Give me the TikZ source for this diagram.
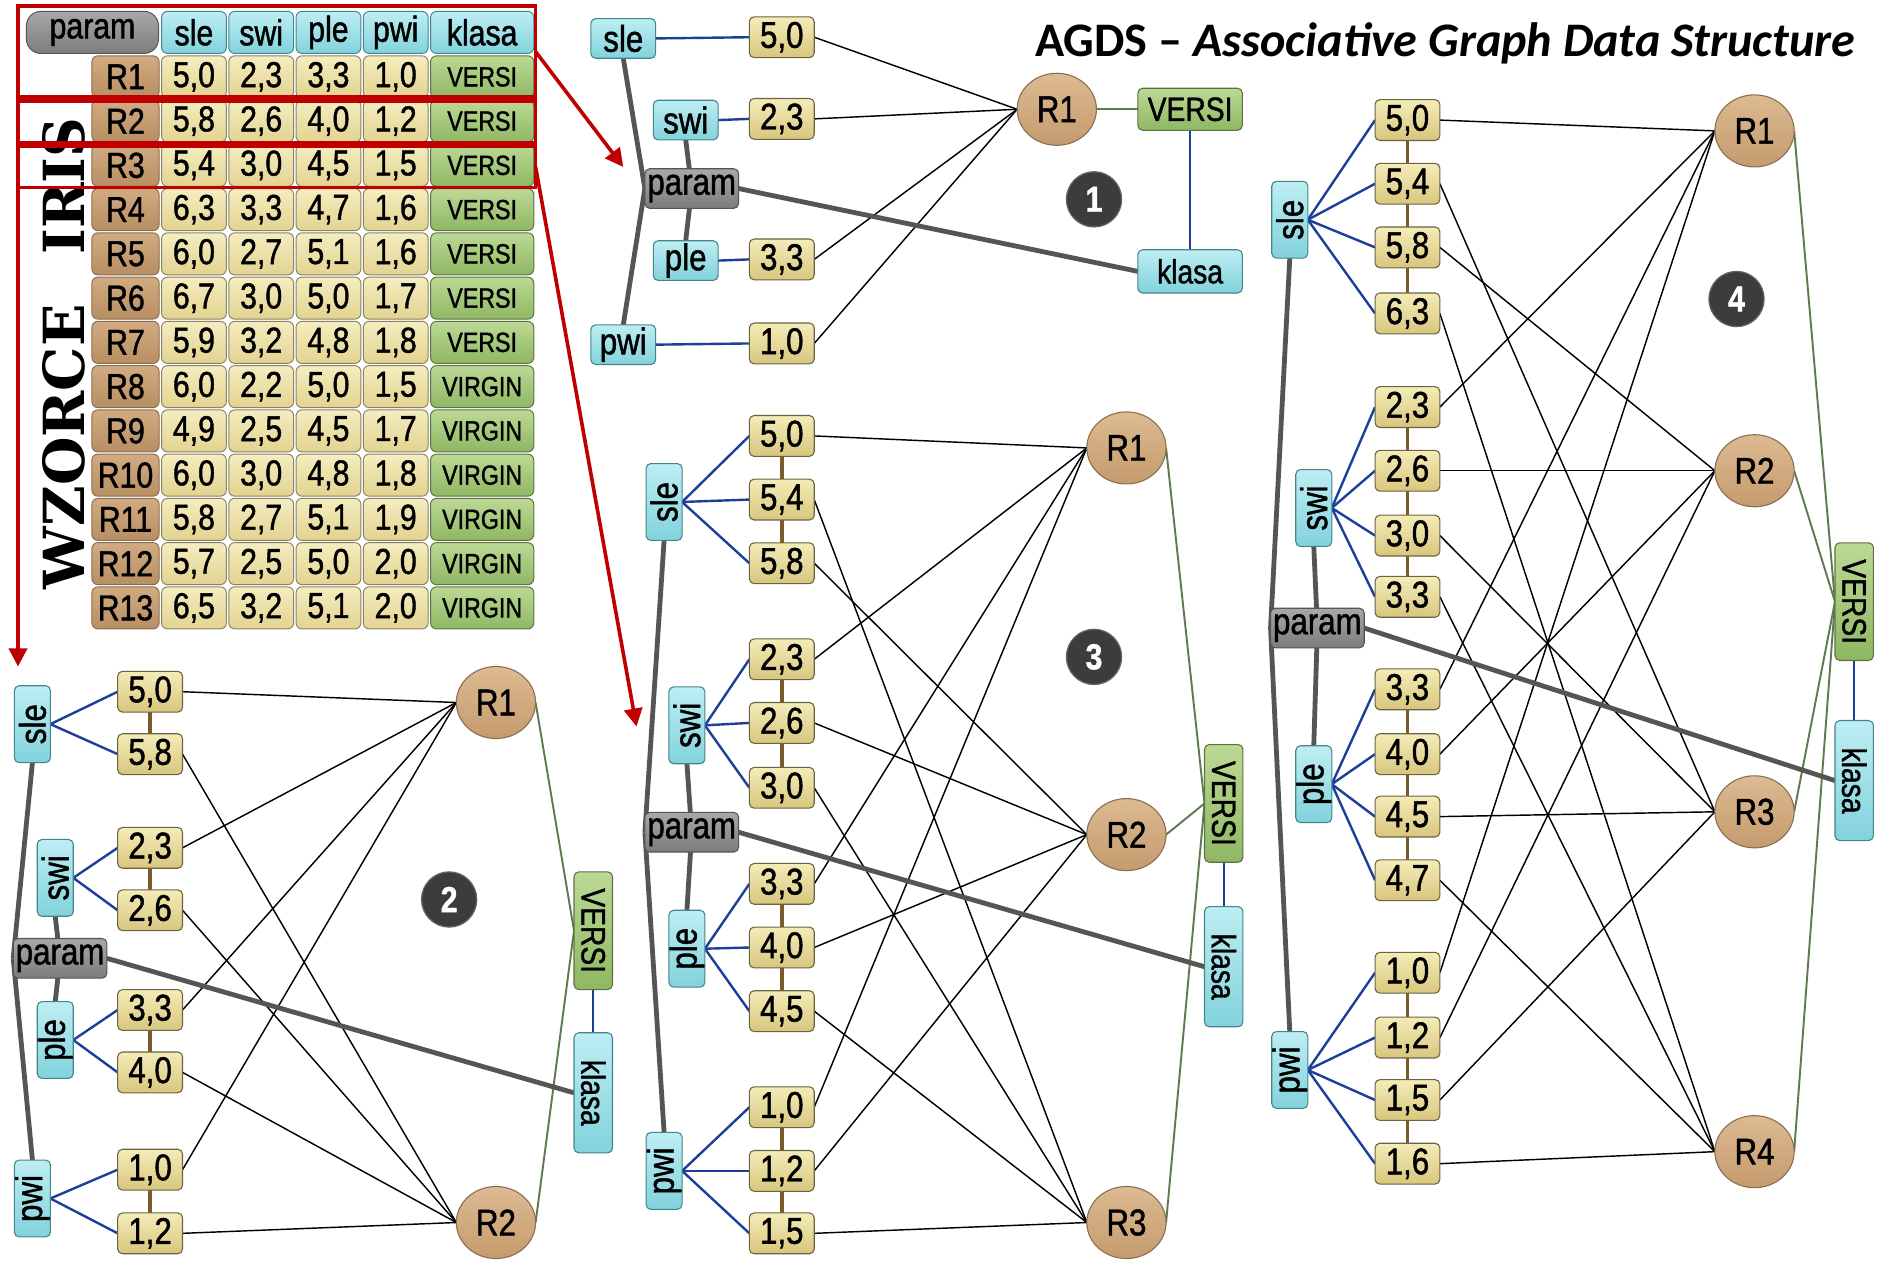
\documentclass[tikz,border=0pt]{standalone}
\usepackage{fontspec}
\setmainfont{Liberation Sans}[FakeStretch=0.84,FakeBold=1.2]
\newfontfamily\titlefont{Carlito}
\newfontfamily\stampfont{DejaVu Serif}
\usetikzlibrary{shapes.geometric,arrows.meta,calc}

\pgfdeclarelayer{paper}
\pgfdeclarelayer{links}
\pgfsetlayers{paper,links,main}

% colours
\definecolor{valtop}{HTML}{F4ECB8}
\definecolor{valbot}{HTML}{D8C67E}
\definecolor{valedge}{HTML}{6B6440}
\definecolor{cyantop}{HTML}{BDEEF3}
\definecolor{cyanbot}{HTML}{82D2DC}
\definecolor{cyanedge}{HTML}{44858C}
\definecolor{graytop}{HTML}{A8A8A8}
\definecolor{graybot}{HTML}{7C7C7C}
\definecolor{grayedge}{HTML}{555555}
\definecolor{greentop}{HTML}{BCD995}
\definecolor{greenbot}{HTML}{8FB763}
\definecolor{greenedge}{HTML}{5D7242}
\definecolor{rectop}{HTML}{DDBA92}
\definecolor{recbot}{HTML}{C49B6E}
\definecolor{recedge}{HTML}{8A6E50}
\definecolor{trtop}{HTML}{D2AB82}
\definecolor{trbot}{HTML}{B88E63}
\definecolor{tvtop}{HTML}{F5EDC0}
\definecolor{tvbot}{HTML}{E2D390}
\definecolor{markred}{HTML}{C00000}
\definecolor{linkblue}{HTML}{1C3F9A}
\definecolor{linkbrown}{HTML}{7B5A2C}
\definecolor{linkgray}{HTML}{555555}
\definecolor{linkgreen}{HTML}{5E7A52}
\definecolor{badgegray}{HTML}{3C3C3C}

\newcommand\valfont{\fontsize{31}{31}\selectfont}
\newcommand\tvalfont{\fontsize{30}{30}\selectfont}
\newcommand\clsfont{\fontsize{28}{28}\selectfont}
\newcommand\tabclsfont{\fontsize{23}{23}\selectfont}
\newcommand\badgefont{\fontsize{30}{30}\selectfont\bfseries}
\newcommand\up[1]{\rotatebox{90}{#1}}
\newcommand\down[1]{\rotatebox{-90}{#1}}

\tikzset{
  every node/.style={inner sep=0pt, outer sep=0pt},
  cell/.style={rectangle, rounded corners=4pt, line width=0.9pt},
  valbox/.style={cell, draw=valedge, top color=valtop, bottom color=valbot,
    minimum width=54pt, minimum height=34pt, font=\valfont},
  attrbox/.style={cell, draw=cyanedge, top color=cyantop, bottom color=cyanbot,
    minimum width=54pt, minimum height=33pt, font=\valfont},
  attrvbox/.style={attrbox, minimum width=30pt, minimum height=64pt},
  parbox/.style={cell, draw=grayedge, top color=graytop, bottom color=graybot,
    minimum width=78pt, minimum height=33pt, font=\valfont},
  clsbox/.style={cell, draw=greenedge, top color=greentop, bottom color=greenbot,
    minimum width=87pt, minimum height=35pt, font=\clsfont},
  clsvbox/.style={clsbox, minimum width=32pt, minimum height=98pt},
  klasabox/.style={attrbox, minimum width=87pt, minimum height=36pt, font=\clsfont},
  klasavbox/.style={attrbox, minimum width=32pt, minimum height=100pt, font=\clsfont},
  recnode/.style={ellipse, draw=recedge, line width=0.9pt, top color=rectop,
    bottom color=recbot, minimum width=66pt, minimum height=60pt, font=\valfont},
  badge/.style={circle, fill=badgegray, draw=black!60, line width=1pt,
    minimum size=46pt, text=white, font=\badgefont},
  bluelink/.style={draw=linkblue, line width=2pt},
  brownlink/.style={draw=linkbrown, line width=3pt},
  parlink/.style={draw=linkgray, line width=4pt},
  reclink/.style={draw=black, line width=1.2pt},
  clslink/.style={draw=linkgreen, line width=1.6pt},
  redframe/.style={rectangle, draw=markred, line width=3pt, minimum width=431pt},
  redmark/.style={draw=markred, line width=3pt, -{Triangle[length=15pt,width=15pt]}},
  tcell/.style={rectangle, rounded corners=5pt, line width=0.8pt, minimum height=35pt},
  thead/.style={tcell, draw=cyanedge, top color=cyantop, bottom color=cyanbot,
    minimum width=54pt, font=\tvalfont},
  tgray/.style={tcell, rounded corners=12pt, draw=grayedge, top color=graytop,
    bottom color=graybot, minimum width=110pt, font=\tvalfont},
  trec/.style={tcell, draw=recedge, top color=trtop, bottom color=trbot,
    minimum width=56pt, font=\tvalfont},
  tval/.style={tcell, draw=valedge!80, top color=tvtop, bottom color=tvbot,
    minimum width=54pt, font=\tvalfont},
  tcls/.style={tcell, draw=greenedge, top color=greentop, bottom color=greenbot,
    minimum width=86pt, font=\tabclsfont},
}

% one row of the pattern table
\newcommand\tabrow[7]{%
  \node[trec] (t#1-r) at (104.5,{64+(#1-1)*36.85}) {#2};
  \node[tval] (t#1-a) at (161.5,{64+(#1-1)*36.85}) {#3};
  \node[tval] (t#1-b) at (217.5,{64+(#1-1)*36.85}) {#4};
  \node[tval] (t#1-c) at (273.5,{64+(#1-1)*36.85}) {#5};
  \node[tval] (t#1-d) at (329.5,{64+(#1-1)*36.85}) {#6};
  \node[tcls] (t#1-k) at (401.5,{64+(#1-1)*36.85}) {#7};
}

\begin{document}
\begin{tikzpicture}[x=1pt,y=-1pt]
\useasboundingbox (0,0) rectangle (1568,1056);
\begin{pgfonlayer}{paper}
\fill[white] (0,0) rectangle (1568,1056);
\end{pgfonlayer}

% ---------------- pattern table ----------------
\node[tgray] (th-par) at (77,27) {param};
\node[thead] (th-sle) at (161.5,27) {sle};
\node[thead] (th-swi) at (217.5,27) {swi};
\node[thead] (th-ple) at (273.5,27) {ple};
\node[thead] (th-pwi) at (329.5,27) {pwi};
\node[thead, minimum width=86pt] (th-kla) at (401.5,27) {klasa};

\tabrow{1}{R1}{5,0}{2,3}{3,3}{1,0}{VERSI}
\tabrow{2}{R2}{5,8}{2,6}{4,0}{1,2}{VERSI}
\tabrow{3}{R3}{5,4}{3,0}{4,5}{1,5}{VERSI}
\tabrow{4}{R4}{6,3}{3,3}{4,7}{1,6}{VERSI}
\tabrow{5}{R5}{6,0}{2,7}{5,1}{1,6}{VERSI}
\tabrow{6}{R6}{6,7}{3,0}{5,0}{1,7}{VERSI}
\tabrow{7}{R7}{5,9}{3,2}{4,8}{1,8}{VERSI}
\tabrow{8}{R8}{6,0}{2,2}{5,0}{1,5}{VIRGIN}
\tabrow{9}{R9}{4,9}{2,5}{4,5}{1,7}{VIRGIN}
\tabrow{10}{R10}{6,0}{3,0}{4,8}{1,8}{VIRGIN}
\tabrow{11}{R11}{5,8}{2,7}{5,1}{1,9}{VIRGIN}
\tabrow{12}{R12}{5,7}{2,5}{5,0}{2,0}{VIRGIN}
\tabrow{13}{R13}{6,5}{3,2}{5,1}{2,0}{VIRGIN}

\node[rotate=90] (wzorce) at (53,372) {\resizebox{237pt}{35pt}{\stampfont\bfseries WZORCE}};
\node[rotate=90] (iris) at (53,155) {\resizebox{114pt}{35pt}{\stampfont\bfseries IRIS}};

% selections and arrows
\node[redframe, minimum height=76pt] (frA) at (230.5,43) {};
\node[redframe, minimum height=35pt] (frB) at (230.5,101.5) {};
\node[redframe, minimum height=34pt] (frC) at (230.5,139) {};
\coordinate (tip1) at (519,139);
\coordinate (tip2) at (15,555);
\coordinate (tip3) at (530,605);
\draw[redmark] (frA.east) -- (tip1);
\draw[redmark] (frC.south west) -- (tip2);
\draw[redmark] (frC.east) -- (tip3);

% ---------------- title ----------------
\node[anchor=west] (title) at (862,36)
  {\resizebox{683pt}{!}{\titlefont\bfseries AGDS – \itshape Associative Graph Data Structure}};

% ---------------- graph 1 ----------------
\node[attrbox] (g1-sle) at (519,32) {sle};
\node[attrbox] (g1-swi) at (571,100) {swi};
\node[parbox]  (g1-par) at (576,157) {param};
\node[attrbox] (g1-ple) at (571,217) {ple};
\node[attrbox] (g1-pwi) at (519,287) {pwi};
\node[valbox] (g1-a1) at (651,31) {5,0};
\node[valbox] (g1-b1) at (651,99) {2,3};
\node[valbox] (g1-c1) at (651,216) {3,3};
\node[valbox] (g1-d1) at (651,286) {1,0};
\node[recnode] (g1-R1) at (880,91) {R1};
\node[clsbox] (g1-V) at (991,91) {VERSI};
\node[klasabox] (g1-K) at (991,226) {klasa};
\node[badge] (g1-badge) at (911,166) {1};

\begin{pgfonlayer}{links}
\foreach \s/\t in {sle/a1, swi/b1, ple/c1, pwi/d1}
  \draw[bluelink] (g1-\s.east) -- (g1-\t.west);
\foreach \v in {a1,b1,c1,d1}
  \draw[reclink] (g1-\v.east) -- (g1-R1.west);
\draw[clslink] (g1-R1.east) -- (g1-V.west);
\draw[bluelink, line width=1.5pt] (g1-V.south) -- (g1-K.north);
\draw[parlink] (g1-sle.south) -- (g1-par.west);
\draw[parlink] (g1-par.west) -- (g1-pwi.north);
\draw[parlink] (g1-swi.south) -- (g1-par);
\draw[parlink] (g1-ple.north) -- (g1-par);
\draw[parlink] (g1-par.east) -- (g1-K.west);
\end{pgfonlayer}

% ---------------- graph 2 ----------------
\node[attrvbox] (g2-sle) at (27,603) {\up{sle}};
\node[attrvbox] (g2-swi) at (46,731) {\up{swi}};
\node[parbox]   (g2-par) at (50,798) {param};
\node[attrvbox] (g2-ple) at (46,866) {\up{ple}};
\node[attrvbox] (g2-pwi) at (27,998) {\up{pwi}};
\node[valbox] (g2-a1) at (125,576) {5,0};
\node[valbox] (g2-a2) at (125,628) {5,8};
\node[valbox] (g2-b1) at (125,706) {2,3};
\node[valbox] (g2-b2) at (125,758) {2,6};
\node[valbox] (g2-c1) at (125,841) {3,3};
\node[valbox] (g2-c2) at (125,893) {4,0};
\node[valbox] (g2-d1) at (125,974) {1,0};
\node[valbox] (g2-d2) at (125,1027) {1,2};
\node[recnode] (g2-R1) at (413,585) {R1};
\node[recnode] (g2-R2) at (413,1018) {R2};
\node[clsvbox] (g2-V) at (494,775) {\down{VERSI}};
\node[klasavbox] (g2-K) at (494,910) {\down{klasa}};
\node[badge] (g2-badge) at (374,749) {2};

\begin{pgfonlayer}{links}
\foreach \s/\t in {sle/a1, sle/a2, swi/b1, swi/b2, ple/c1, ple/c2, pwi/d1, pwi/d2}
  \draw[bluelink] (g2-\s.east) -- (g2-\t.west);
\foreach \s/\t in {a1/a2, b1/b2, c1/c2, d1/d2}
  \draw[brownlink] (g2-\s.south) -- (g2-\t.north);
\foreach \v in {a1,b1,c1,d1}
  \draw[reclink] (g2-\v.east) -- (g2-R1.west);
\foreach \v in {a2,b2,c2,d2}
  \draw[reclink] (g2-\v.east) -- (g2-R2.west);
\foreach \r in {R1,R2}
  \draw[clslink] (g2-\r.east) -- (g2-V.west);
\draw[bluelink, line width=1.5pt] (g2-V.south) -- (g2-K.north);
\draw[parlink] (g2-sle.south) -- (g2-par.west);
\draw[parlink] (g2-par.west) -- (g2-pwi.north);
\draw[parlink] (g2-swi.south) -- (g2-par);
\draw[parlink] (g2-ple.north) -- (g2-par);
\draw[parlink] (g2-par.east) -- (g2-K.west);
\end{pgfonlayer}

% ---------------- graph 3 ----------------
\node[attrvbox] (g3-sle) at (553,418) {\up{sle}};
\node[attrvbox] (g3-swi) at (572,604) {\up{swi}};
\node[parbox]   (g3-par) at (576,693) {param};
\node[attrvbox] (g3-ple) at (572,790) {\up{ple}};
\node[attrvbox] (g3-pwi) at (553,975) {\up{pwi}};
\node[valbox] (g3-a1) at (651,363) {5,0};
\node[valbox] (g3-a2) at (651,416) {5,4};
\node[valbox] (g3-a3) at (651,469) {5,8};
\node[valbox] (g3-b1) at (651,549) {2,3};
\node[valbox] (g3-b2) at (651,602) {2,6};
\node[valbox] (g3-b3) at (651,656) {3,0};
\node[valbox] (g3-c1) at (651,736) {3,3};
\node[valbox] (g3-c2) at (651,789) {4,0};
\node[valbox] (g3-c3) at (651,842) {4,5};
\node[valbox] (g3-d1) at (651,922) {1,0};
\node[valbox] (g3-d2) at (651,975) {1,2};
\node[valbox] (g3-d3) at (651,1027) {1,5};
\node[recnode] (g3-R1) at (938,373) {R1};
\node[recnode] (g3-R2) at (938,695) {R2};
\node[recnode] (g3-R3) at (938,1018) {R3};
\node[clsvbox] (g3-V) at (1019,669) {\down{VERSI}};
\node[klasavbox] (g3-K) at (1019,805) {\down{klasa}};
\node[badge] (g3-badge) at (911,547) {3};

\begin{pgfonlayer}{links}
\foreach \s/\t in {sle/a1, sle/a2, sle/a3, swi/b1, swi/b2, swi/b3,
                   ple/c1, ple/c2, ple/c3, pwi/d1, pwi/d2, pwi/d3}
  \draw[bluelink] (g3-\s.east) -- (g3-\t.west);
\foreach \s/\t in {a1/a2, a2/a3, b1/b2, b2/b3, c1/c2, c2/c3, d1/d2, d2/d3}
  \draw[brownlink] (g3-\s.south) -- (g3-\t.north);
\foreach \v in {a1,b1,c1,d1}
  \draw[reclink] (g3-\v.east) -- (g3-R1.west);
\foreach \v in {a3,b2,c2,d2}
  \draw[reclink] (g3-\v.east) -- (g3-R2.west);
\foreach \v in {a2,b3,c3,d3}
  \draw[reclink] (g3-\v.east) -- (g3-R3.west);
\foreach \r in {R1,R2,R3}
  \draw[clslink] (g3-\r.east) -- (g3-V.west);
\draw[bluelink, line width=1.5pt] (g3-V.south) -- (g3-K.north);
\draw[parlink] (g3-sle.south) -- (g3-par.west);
\draw[parlink] (g3-par.west) -- (g3-pwi.north);
\draw[parlink] (g3-swi.south) -- (g3-par);
\draw[parlink] (g3-ple.north) -- (g3-par);
\draw[parlink] (g3-par.east) -- (g3-K.west);
\end{pgfonlayer}

% ---------------- graph 4 ----------------
\node[attrvbox] (g4-sle) at (1074,183) {\up{sle}};
\node[attrvbox] (g4-swi) at (1094,423) {\up{swi}};
\node[parbox]   (g4-par) at (1097,523) {param};
\node[attrvbox] (g4-ple) at (1094,653) {\up{ple}};
\node[attrvbox] (g4-pwi) at (1074,891) {\up{pwi}};
\node[valbox] (g4-a1) at (1172,100) {5,0};
\node[valbox] (g4-a2) at (1172,153) {5,4};
\node[valbox] (g4-a3) at (1172,206) {5,8};
\node[valbox] (g4-a4) at (1172,261) {6,3};
\node[valbox] (g4-b1) at (1172,339) {2,3};
\node[valbox] (g4-b2) at (1172,392) {2,6};
\node[valbox] (g4-b3) at (1172,446) {3,0};
\node[valbox] (g4-b4) at (1172,497) {3,3};
\node[valbox] (g4-c1) at (1172,574) {3,3};
\node[valbox] (g4-c2) at (1172,628) {4,0};
\node[valbox] (g4-c3) at (1172,680) {4,5};
\node[valbox] (g4-c4) at (1172,733) {4,7};
\node[valbox] (g4-d1) at (1172,810) {1,0};
\node[valbox] (g4-d2) at (1172,864) {1,2};
\node[valbox] (g4-d3) at (1172,916) {1,5};
\node[valbox] (g4-d4) at (1172,969) {1,6};
\node[recnode] (g4-R1) at (1461,109) {R1};
\node[recnode] (g4-R2) at (1461,392) {R2};
\node[recnode] (g4-R3) at (1461,676) {R3};
\node[recnode] (g4-R4) at (1461,959) {R4};
\node[clsvbox] (g4-V) at (1544,501) {\down{VERSI}};
\node[klasavbox] (g4-K) at (1544,650) {\down{klasa}};
\node[badge] (g4-badge) at (1446,249) {4};

\begin{pgfonlayer}{links}
\foreach \s/\t in {sle/a1, sle/a2, sle/a3, sle/a4, swi/b1, swi/b2, swi/b3, swi/b4,
                   ple/c1, ple/c2, ple/c3, ple/c4, pwi/d1, pwi/d2, pwi/d3, pwi/d4}
  \draw[bluelink] (g4-\s.east) -- (g4-\t.west);
\foreach \s/\t in {a1/a2, a2/a3, a3/a4, b1/b2, b2/b3, b3/b4,
                   c1/c2, c2/c3, c3/c4, d1/d2, d2/d3, d3/d4}
  \draw[brownlink] (g4-\s.south) -- (g4-\t.north);
\foreach \v in {a1,b1,c1,d1}
  \draw[reclink] (g4-\v.east) -- (g4-R1.west);
\foreach \v in {a3,b2,c2,d2}
  \draw[reclink] (g4-\v.east) -- (g4-R2.west);
\foreach \v in {a2,b3,c3,d3}
  \draw[reclink] (g4-\v.east) -- (g4-R3.west);
\foreach \v in {a4,b4,c4,d4}
  \draw[reclink] (g4-\v.east) -- (g4-R4.west);
\foreach \r in {R1,R2,R3,R4}
  \draw[clslink] (g4-\r.east) -- (g4-V.west);
\draw[bluelink, line width=1.5pt] (g4-V.south) -- (g4-K.north);
\draw[parlink] (g4-sle.south) -- (g4-par.west);
\draw[parlink] (g4-par.west) -- (g4-pwi.north);
\draw[parlink] (g4-swi.south) -- (g4-par);
\draw[parlink] (g4-ple.north) -- (g4-par);
\draw[parlink] (g4-par.east) -- (g4-K.west);
\end{pgfonlayer}

\end{tikzpicture}
\end{document}
